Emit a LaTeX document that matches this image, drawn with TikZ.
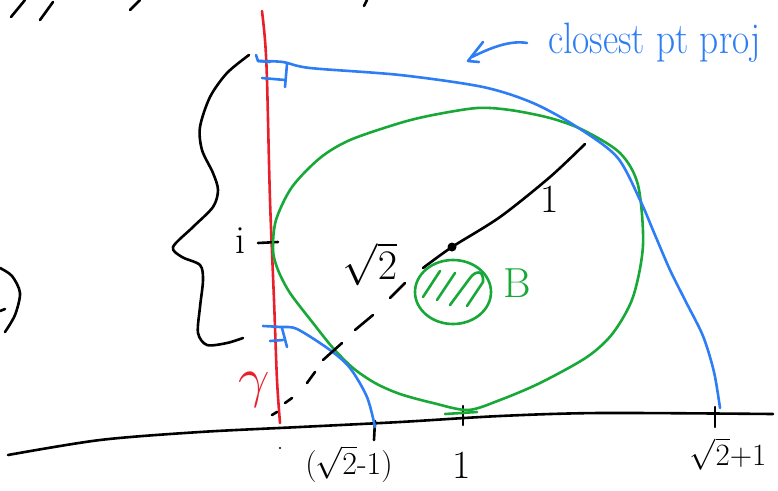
\RequirePackage{fix-cm}
\documentclass[tikz,border=0pt]{standalone}
\definecolor{penred}{RGB}{232,32,44}
\definecolor{penblue}{RGB}{45,125,245}
\definecolor{pengreen}{RGB}{24,168,56}
\newcommand\myfs[1]{\fontsize{#1}{#1}\selectfont}
\tikzset{
  pen/.style={line width=2.6pt, line cap=round, line join=round},
  blk/.style={pen, black},
  redpen/.style={pen, penred},
  bluepen/.style={pen, penblue},
  greenpen/.style={pen, pengreen},
  lab/.style={inner sep=0pt, outer sep=0pt},
}
\begin{document}
\begin{tikzpicture}[x=1pt,y=-1pt]
\useasboundingbox (0,0) rectangle (778,490);
\clip (0,0) rectangle (778,490);
% stray strokes at the top edge
\draw[blk] (11,17) -- (25,0);
\draw[blk] (40,20) -- (53,2);
\draw[blk] (130,10) -- (140,0);
\draw[blk] (364,6) -- (367,0);
% partial paren at left edge
\draw[blk] plot[smooth] coordinates {(0,268) (12,276) (20,293) (15,315) (5,332)};
\draw[blk] (0,311) -- (5,309);
% axis
\draw[blk] plot[smooth] coordinates {(8,455) (100,440) (200,432) (300,427) (400,422) (500,416) (600,413) (773,414)};
\coordinate (tA) at (375,421);
\coordinate (tB) at (463,406);
\coordinate (tC) at (715,407);
\draw[blk] (tA) -- ++(-1,19);
\draw[blk] (tB) -- ++(0,19);
\draw[blk] (tC) -- ++(0,20);
\fill (280,448) circle (1.2);
% red curve gamma
\draw[redpen] plot[smooth] coordinates {(262,11) (265,40) (267,80) (270,200) (274,300) (277,380) (280,423)};
\node[lab, text=penred, font=\myfs{56}] (gam) at (254,390) {$\gamma$};
% brace
\draw[blk] plot[smooth] coordinates {(249,55) (227,73) (210,97) (200,127) (202,150) (213,173) (218,190) (213,207) (193,227) (173,247) (182,257) (200,265) (203,280) (200,307) (198,333) (207,345) (227,343) (243,338)};
% i label and tick
\node[lab, anchor=base, font=\myfs{40}] (li) at (240,253) {i};
\draw[blk] (258,243) -- (278,242);
% green big curve
\draw[greenpen] plot[smooth cycle] coordinates {(273,250) (278,270) (290,293) (313,323) (333,348) (353,368) (375,383) (400,394) (433,403) (468,410) (500,400) (540,383) (587,357) (613,333) (633,297) (643,245) (638,185) (620,153) (583,130) (550,118) (510,110) (477,108) (433,115) (400,123) (350,140) (320,158) (292,187) (276,220)};
\draw[greenpen] (445,414) -- (477,412);
% blue closest point projection curves
\draw[bluepen] (256,55) -- (258,61) -- (270,62);
\draw[bluepen] plot[smooth] coordinates {(258,61) (283,62) (310,68) (400,75) (483,87) (533,103) (577,127) (617,157) (640,200) (655,235) (670,270) (686,302) (703,336) (714,372) (720,408)};
\draw[bluepen] (262,78) -- (285,80);
\draw[bluepen] (287,64) -- (285,87);
\draw[bluepen] plot[smooth] coordinates {(263,326) (280,327) (297,329) (330,350) (350,368) (367,397) (375,427)};
\draw[bluepen] (270,341) -- (283,340);
\draw[bluepen] (282,328) -- (287,347);
% blue annotation
\draw[bluepen] (483,42) -- (468,61) -- (479,62);
\draw[bluepen] (472,57) .. controls (490,48) and (510,40) .. (527,43);
\node[lab, anchor=base west, text=penblue, font=\myfs{44}] (cpp) at (548,53) {\scalebox{0.85}[1]{closest pt proj}};
% radius line with centre dot
\draw[blk] plot[smooth] coordinates {(423,268) (452,247) (500,217) (550,177) (585,144)};
\fill (452,247) circle (4.5);
\node[lab, anchor=base, font=\myfs{40}] (l1r) at (550,212) {1};
% dashed sqrt2 line
\draw[blk] (272,415) -- (277,412);
\draw[blk] (285,403) -- (292,398);
\draw[blk] (307,383) -- (315,372);
\draw[blk] (323,360) -- (342,343);
\draw[blk] (355,330) -- (373,315);
\draw[blk] (390,298) -- (405,283);
\node[lab, font=\myfs{42}] (ls2) at (370,264) {$\sqrt{2}$};
% small ball B
\draw[greenpen] (453,292) ellipse [x radius=38, y radius=32];
\draw[greenpen] (423,297) -- (440,271);
\draw[greenpen] (437,300) -- (455,273);
\draw[greenpen] (450,305) -- (470,278) .. controls (476,270) and (484,270) .. (483,282) -- (467,306);
\node[lab, anchor=base, text=pengreen, font=\myfs{42}] (lB) at (517,297) {B};
% axis labels
\node[lab, font=\myfs{32}] (lm) at (349,464) {(\kern-1pt$\sqrt{2}$-1)};
\node[lab, anchor=base, font=\myfs{40}] (l1) at (462,478) {1};
\node[lab, font=\myfs{31}] (lp) at (728,454) {$\sqrt{2}{+}1$};
\end{tikzpicture}
\end{document}
